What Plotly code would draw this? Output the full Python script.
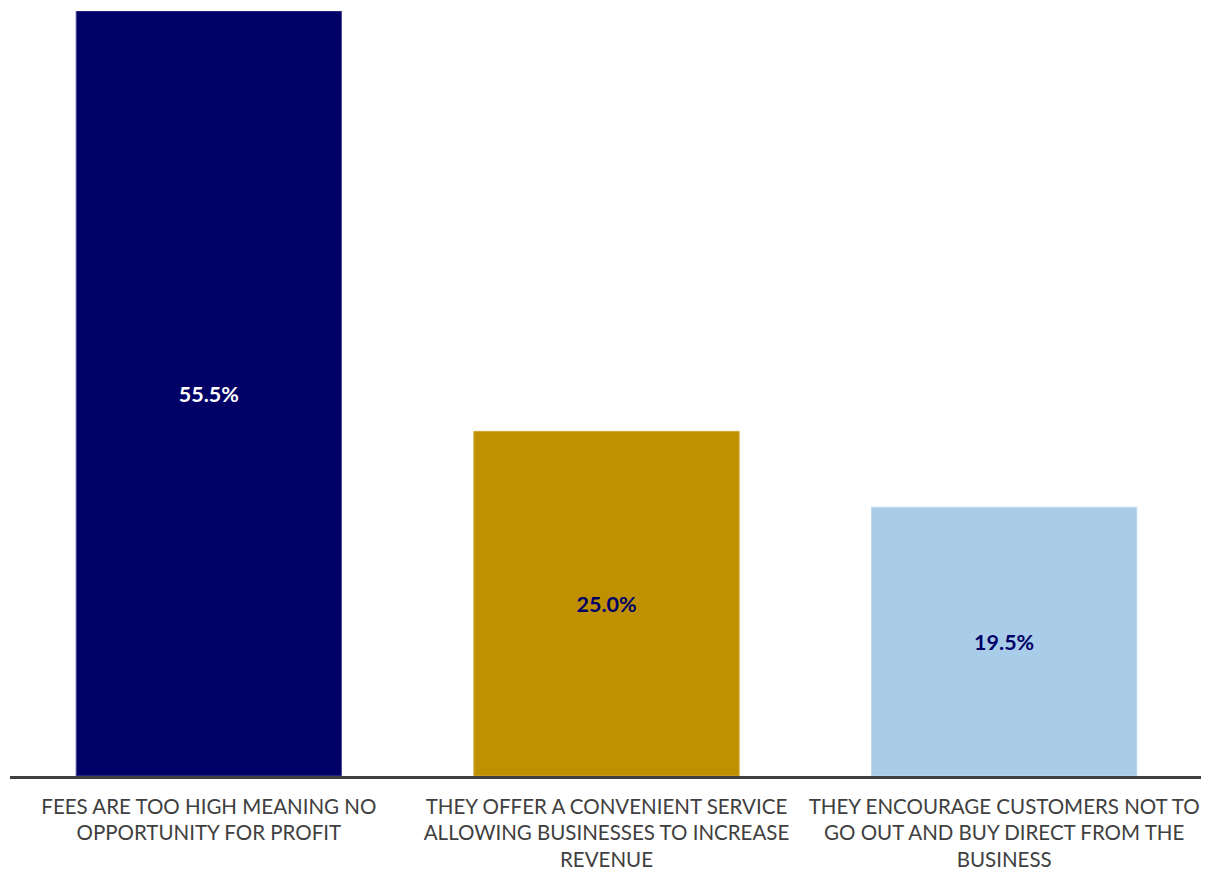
import plotly.graph_objects as go

categories = [
    "FEES ARE TOO HIGH MEANING NO<br>OPPORTUNITY FOR PROFIT",
    "THEY OFFER A CONVENIENT SERVICE<br>ALLOWING BUSINESSES TO INCREASE<br>REVENUE",
    "THEY ENCOURAGE CUSTOMERS NOT TO<br>GO OUT AND BUY DIRECT FROM THE<br>BUSINESS",
]
values = [55.5, 25.0, 19.5]
labels = ["55.5%", "25.0%", "19.5%"]
colors = ["#000066", "#BF9000", "#A9CCE9"]
edge_colors = ["#4a4a99", "#cfa733", "#bcd8ef"]
text_colors = ["#FFFFFF", "#000066", "#000066"]

fig = go.Figure(
    go.Bar(
        x=categories,
        y=values,
        text=labels,
        textposition="inside",
        insidetextanchor="middle",
        textangle=0,
        textfont=dict(family="Lato", size=21.5, color=text_colors, weight="bold"),
        marker=dict(color=colors, line=dict(color=edge_colors, width=1)),
        hoverinfo="skip",
    )
)

fig.update_layout(
    width=1209,
    height=878,
    margin=dict(l=2, r=14, t=3, b=110),
    paper_bgcolor="white",
    plot_bgcolor="white",
    bargap=0.333,
    showlegend=False,
    uniformtext=dict(mode=False),
)
fig.update_xaxes(
    showline=True,
    linecolor="#404040",
    linewidth=3,
    ticks="",
    ticklabelstandoff=10,
    tickfont=dict(family="Lato", size=20.5, color="#404040"),
    showgrid=False,
)
fig.update_yaxes(
    range=[0, 55.5],
    visible=False,
    showgrid=False,
)

fig.write_html("out.html")
